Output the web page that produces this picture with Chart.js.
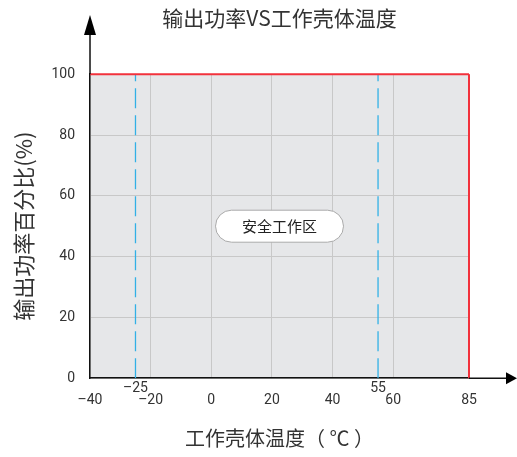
<!DOCTYPE html>
<html>
<head>
<meta charset="utf-8">
<script src="https://cdn.jsdelivr.net/npm/chart.js@4/dist/chart.umd.min.js"></script>
<style>
  html, body { margin: 0; padding: 0; background: #fff; }
  #wrap { width: 517px; height: 457px; }
</style>
</head>
<body>
<div id="wrap"><canvas id="derating"></canvas></div>
<script>
Chart.defaults.font.family = "Roboto, 'Noto Sans CJK SC', sans-serif";
Chart.defaults.color = "#333";

// data
const tempTicks = [-40, -20, 0, 20, 40, 60, 85];
const powerTicks = [0, 20, 40, 60, 80, 100];
const limitTemps = [-40, 85];
const limitPower = [100, 100];
const edgeTemp = [85, 85];
const edgePower = [0, 100];
const markTemps = [-25, 55];
const markPower = [0, 100];
const zoneLabel = '安全工作区';
const zoneAt = [22.5, 50];

const toPts = (xs, ys) => xs.map((x, i) => ({x: x, y: ys[i]}));
const dash = s => String(s).replace('-', '–');

const ctx = document.getElementById("derating");

const extras = {
  id: 'extras',
  beforeDraw(chart) {
    const c = chart.ctx, x = chart.scales.x, y = chart.scales.y;
    const l = x.getPixelForValue(-40), r = x.getPixelForValue(85);
    const t = y.getPixelForValue(100), b = y.getPixelForValue(0);
    c.save();
    c.fillStyle = '#e6e7e9';
    c.fillRect(l, t, r - l, b - t);
    c.restore();
  },
  afterDraw(chart) {
    const c = chart.ctx, x = chart.scales.x, y = chart.scales.y;
    const ox = x.getPixelForValue(-40), oy = y.getPixelForValue(0);
    const top = y.getPixelForValue(100), right = x.getPixelForValue(85);
    c.save();
    // axis extensions and arrows
    c.strokeStyle = '#111';
    c.fillStyle = '#000';
    c.lineWidth = 1.5;
    c.beginPath();
    c.moveTo(ox, top); c.lineTo(ox, 34);
    c.moveTo(right, oy); c.lineTo(507, oy);
    c.stroke();
    c.beginPath();
    c.moveTo(ox, 15); c.lineTo(ox - 6, 35); c.lineTo(ox + 6, 35); c.closePath();
    c.fill();
    c.beginPath();
    c.moveTo(517, oy); c.lineTo(506, oy - 6); c.lineTo(506, oy + 6); c.closePath();
    c.fill();
    // small labels for the derating marks
    c.font = "14px Roboto, sans-serif";
    c.fillStyle = '#333';
    c.textAlign = 'center';
    c.textBaseline = 'middle';
    markTemps.forEach(v => c.fillText(dash(v), x.getPixelForValue(v), oy + 10));
    // zone label box
    const cx = x.getPixelForValue(zoneAt[0]), cy = y.getPixelForValue(zoneAt[1]);
    const w = 128, h = 32, rr = 16;
    c.beginPath();
    c.roundRect(cx - w / 2, cy - h / 2, w, h, rr);
    c.fillStyle = '#fff';
    c.fill();
    c.strokeStyle = '#aaa';
    c.lineWidth = 1;
    c.stroke();
    c.fillStyle = '#222';
    c.font = "15px 'Noto Sans CJK SC', sans-serif";
    c.fillText(zoneLabel, cx, cy);
    c.restore();
  }
};

const chart = new Chart(ctx, {
  type: 'line',
  data: {
    datasets: [{
      data: toPts(limitTemps, limitPower),
      borderColor: '#f2323c',
      borderWidth: 2,
      pointRadius: 0,
      clip: 6
    }, {
      data: toPts(edgeTemp, edgePower),
      borderColor: '#f2323c',
      borderWidth: 2,
      pointRadius: 0,
      clip: 6
    }, {
      data: toPts([markTemps[0], markTemps[0]], markPower),
      borderColor: '#32b0e6',
      borderWidth: 1.3,
      borderDash: [20, 7],
      pointRadius: 0
    }, {
      data: toPts([markTemps[1], markTemps[1]], markPower),
      borderColor: '#32b0e6',
      borderWidth: 1.3,
      borderDash: [20, 7],
      pointRadius: 0
    }]
  },
  options: {
    responsive: true,
    maintainAspectRatio: false,
    animation: false,
    layout: { padding: { left: 8, right: 48, top: 0, bottom: 7 } },
    plugins: {
      legend: { display: false },
      tooltip: { enabled: false },
      title: {
        display: true,
        text: '输出功率VS工作壳体温度',
        fullSize: false,
        color: '#333',
        font: { size: 21, weight: 'normal', family: "'Noto Sans CJK SC', sans-serif" },
        padding: { top: 5, bottom: 44 }
      }
    },
    scales: {
      x: {
        type: 'linear',
        min: -40,
        max: 85,
        afterBuildTicks: s => { s.ticks = tempTicks.map(v => ({value: v})); },
        ticks: { padding: 14, font: { size: 14 }, color: '#333', callback: v => dash(v) },
        grid: { color: '#c8c8c8', drawTicks: false },
        border: { color: '#111', width: 1.5 },
        title: {
          display: true,
          text: '工作壳体温度（ ℃ ）',
          color: '#333',
          font: { size: 20, family: "'Noto Sans CJK SC', sans-serif" },
          padding: { top: 3, bottom: 0 }
        }
      },
      y: {
        min: 0,
        max: 100,
        afterBuildTicks: s => { s.ticks = powerTicks.map(v => ({value: v})); },
        ticks: { padding: 15, font: { size: 14 }, color: '#333' },
        grid: { color: '#c8c8c8', drawTicks: false },
        border: { color: '#111', width: 1.5 },
        title: {
          display: true,
          text: '输出功率百分比(%)',
          color: '#333',
          font: { size: 22, family: "'Noto Sans CJK SC', sans-serif" },
          padding: { top: 2, bottom: 0 }
        }
      }
    }
  },
  plugins: [extras]
});
</script>
</body>
</html>
